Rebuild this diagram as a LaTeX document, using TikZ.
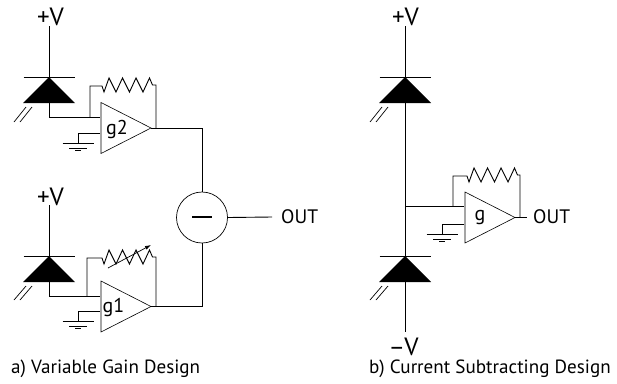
\documentclass[tikz,border=0pt]{standalone}
\usepackage{fontspec}
\setmainfont{PT Sans}
\usetikzlibrary{shapes.geometric,arrows.meta}
\tikzset{
    wire/.style={line width=0.9pt},
    thin wire/.style={line width=0.7pt},
    ampbox/.style={draw,line width=0.6pt,isosceles triangle,isosceles triangle stretches,
        minimum width=51pt,minimum height=50pt,inner sep=0pt,outer sep=0pt,anchor=apex},
    diodebox/.style={fill=black,isosceles triangle,isosceles triangle stretches,shape border rotate=90,
        minimum width=52pt,minimum height=26pt,inner sep=0pt,outer sep=0pt,anchor=apex},
    rail/.style={font=\fontsize{25}{25}\selectfont,inner sep=0pt},
    gain/.style={font=\fontsize{20}{20}\selectfont,inner sep=0pt},
    outlabel/.style={font=\fontsize{19.5}{20}\selectfont,inner sep=0pt,anchor=west},
    caption/.style={font=\fontsize{19.1}{19}\selectfont,inner sep=0pt,anchor=west},
}
\begin{document}
\begin{tikzpicture}[x=1pt,y=-1pt]
    \useasboundingbox (0,0) rectangle (617,383);

    % a) top branch
    \node[rail] (v2) at (50.5,17) {+V};
    \coordinate (v2end) at (49,26);
    \node[diodebox] (d2) at (49,77) {};
    \node[ampbox] (a2) at (151,128) {};
    \node[gain] (g2) at (117,129) {g2};
    \coordinate (in2) at (100,117);
    \coordinate (fb2) at (90,117);
    \coordinate (fo2) at (156,128);
    \coordinate (gnd2) at (78,143);
    \draw[wire] (v2end) -- (d2.apex);
    \draw[wire] (23.5,77) -- (75,77);
    \draw[wire] (d2.lower side) |- (in2);
    \draw[wire] (fb2) -- (90,86) -- (102,86) -- ++(2,6) -- ++(5,-14) -- ++(7,14) -- ++(6.5,-14)
        -- ++(7,14) -- ++(6.5,-14) -- ++(7,14) -- ++(6.5,-14) -- ++(3,7) -- (156,85) -- (fo2);
    \draw[wire] (a2.apex) -| (202,192);
    \draw[thin wire] (100,133) -| (gnd2);
    \draw[thin wire] (gnd2) ++(-15.5,0) -- ++(31,0);
    \draw[thin wire] (gnd2) ++(-9,5) -- ++(18,0);
    \draw[thin wire] (gnd2) ++(-3,7.5) -- ++(6,0);
    \draw[thin wire] (14,122) -- (26,107);
    \draw[thin wire] (20,122) -- (32,107);

    % a) bottom branch
    \node[rail] (v1) at (50.5,197) {+V};
    \coordinate (v1end) at (49,205);
    \node[diodebox] (d1) at (49,256) {};
    \node[ampbox] (a1) at (151,306.5) {};
    \node[gain] (g1) at (113.5,307) {g1};
    \coordinate (in1) at (100,296);
    \coordinate (fb1) at (87,296);
    \coordinate (fo1) at (156,306.5);
    \coordinate (gnd1) at (78,321);
    \draw[wire] (v1end) -- (d1.apex);
    \draw[wire] (23.5,256) -- (75,256);
    \draw[wire] (d1.lower side) |- (in1);
    \draw[wire] (fb1) -- (87,258) -- (102,258) -- ++(2,6) -- ++(5,-14) -- ++(7,14) -- ++(6.5,-14)
        -- ++(7,14) -- ++(6.5,-14) -- ++(7,14) -- ++(6.5,-14) -- ++(3,7) -- (156,257) -- (fo1);
    \draw[wire] (a1.apex) -| (202,243);
    \draw[thin wire] (100,311) -| (gnd1);
    \draw[thin wire] (gnd1) ++(-15.5,0) -- ++(31,0);
    \draw[thin wire] (gnd1) ++(-9,5) -- ++(18,0);
    \draw[thin wire] (gnd1) ++(-3,7.5) -- ++(6,0);
    \draw[thin wire] (14,300) -- (26,286);
    \draw[thin wire] (20,300) -- (32,286);
    \draw[thin wire,-{Latex[length=6pt,width=4pt]}] (108,268) -- (151,245);

    % a) subtractor
    \node[draw,circle,line width=0.7pt,minimum size=51pt,inner sep=0pt] (sub) at (202,217.5) {};
    \draw[line width=1.1pt] (192,217) -- (212,217);
    \coordinate (outend) at (272,217);
    \node[outlabel] (out1) at (281,217) {OUT};
    \draw[wire] (sub.east) -- (outend);
    \node[caption] (cap1) at (11,369) {a) Variable Gain Design};

    % b)
    \node[rail] (vp) at (405.5,17) {+V};
    \coordinate (vpend) at (405,26);
    \node[diodebox] (d3) at (405,77) {};
    \node[diodebox] (d4) at (405,256) {};
    \node[rail] (vm) at (403.5,347) {–V};
    \coordinate (vmend) at (405,332);
    \node[ampbox] (a3) at (515,217.5) {};
    \node[gain] (g3) at (480,218) {g};
    \coordinate (in3) at (464,206);
    \coordinate (fb3) at (453,206);
    \coordinate (fo3) at (520,217.5);
    \coordinate (gnd3) at (442,234);
    \draw[wire] (vpend) -- (d3.apex);
    \draw[wire] (379.5,77) -- (430.5,77);
    \draw[wire] (d3.lower side) -- (d4.apex);
    \draw[wire] (379.5,256) -- (430.5,256);
    \draw[wire] (d4.lower side) -- (vmend);
    \draw[wire] (405,206) -- (in3);
    \draw[wire] (fb3) -- (453,176) -- (467,176) -- ++(2,6) -- ++(5,-14) -- ++(7,14) -- ++(6.5,-14)
        -- ++(7,14) -- ++(6.5,-14) -- ++(7,14) -- ++(6.5,-14) -- ++(3,7) -- (520,175) -- (fo3);
    \draw[wire] (a3.apex) -- (527,217.5);
    \draw[thin wire] (464,224) -| (gnd3);
    \draw[thin wire] (gnd3) ++(-15.5,0) -- ++(31,0);
    \draw[thin wire] (gnd3) ++(-9,5) -- ++(18,0);
    \draw[thin wire] (gnd3) ++(-3,7.5) -- ++(6,0);
    \draw[thin wire] (370,122) -- (382,107);
    \draw[thin wire] (376,122) -- (388,107);
    \draw[thin wire] (370,300) -- (382,286);
    \draw[thin wire] (376,300) -- (388,286);
    \node[outlabel] (out2) at (533,217) {OUT};
    \node[caption] (cap2) at (369,369) {b) Current Subtracting Design};
\end{tikzpicture}
\end{document}
